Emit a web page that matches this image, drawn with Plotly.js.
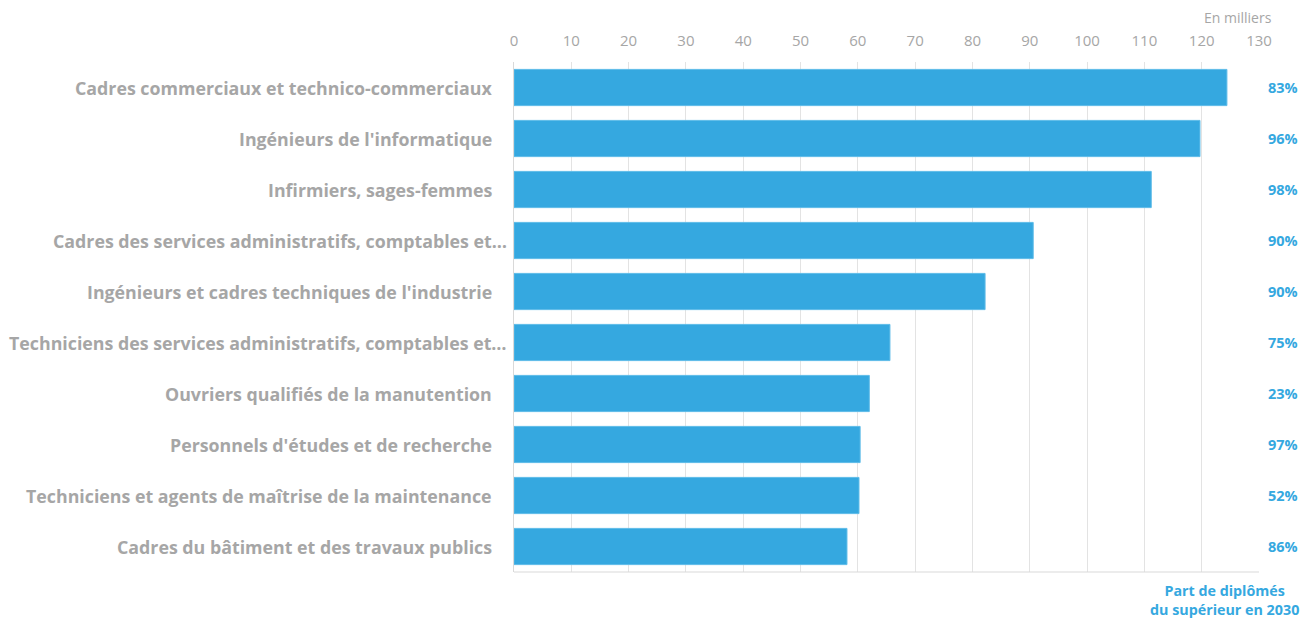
<!DOCTYPE html>
<html><head><meta charset="utf-8">
<script src="https://cdn.plot.ly/plotly-3.0.1.min.js"></script>
<style>html,body{margin:0;padding:0;background:#fff}#chart{width:1315px;height:621px}</style>
</head><body><div id="chart"></div>
<script>
const categories = [
  "Cadres commerciaux et technico-commerciaux",
  "Ingénieurs de l'informatique",
  "Infirmiers, sages-femmes",
  "Cadres des services administratifs, comptables et…",
  "Ingénieurs et cadres techniques de l'industrie",
  "Techniciens des services administratifs, comptables et…",
  "Ouvriers qualifiés de la manutention",
  "Personnels d'études et de recherche",
  "Techniciens et agents de maîtrise de la maintenance",
  "Cadres du bâtiment et des travaux publics"
];
const values = [124.4, 119.7, 111.2, 90.6, 82.2, 65.6, 62.0, 60.4, 60.2, 58.1];
const shares = ["83%", "96%", "98%", "90%", "90%", "75%", "23%", "97%", "52%", "86%"];
const tickVals = [0,10,20,30,40,50,60,70,80,90,100,110,120,130];

const blue = "#35A8E0";
const grey = "#A6A6A6";

const trace = {
  type: "bar", orientation: "h",
  x: values, y: categories,
  marker: {color: blue, line: {color: "#5DBBE8", width: 1}},
  width: 0.71, hoverinfo: "x+y"
};

// category labels drawn as annotations (truncated labels sit closer to the axis)
const annotations = categories.map(c => ({
  xref: "paper", yref: "y", x: 0, y: c, text: "<b>" + c + "</b>",
  showarrow: false, xanchor: "right", yanchor: "middle",
  xshift: c.endsWith("…") ? -5 : -20,
  font: {family: "Open Sans, sans-serif", size: 17.8, color: grey}
}));
categories.forEach((c, i) => annotations.push({
  xref: "paper", yref: "y", x: 1.032, y: c, text: "<b>" + shares[i] + "</b>",
  showarrow: false, xanchor: "center", yanchor: "middle",
  font: {family: "Open Sans, sans-serif", size: 14.5, color: blue}
}));
annotations.push({
  xref: "paper", yref: "paper", x: 1.0, y: 1.0, xshift: 15, yshift: 33, text: "En milliers",
  showarrow: false, xanchor: "right", yanchor: "bottom",
  font: {family: "Open Sans, sans-serif", size: 14, color: grey}
});
annotations.push({
  xref: "paper", yref: "paper", x: 1.057, y: 0, text: "<b>Part de diplômés<br>du supérieur en 2030</b>",
  showarrow: false, xanchor: "right", yanchor: "top", align: "center", yshift: -7,
  font: {family: "Open Sans, sans-serif", size: 14.3, color: blue}
});

const layout = {
  width: 1315, height: 621,
  margin: {l: 514, r: 56, t: 62, b: 49},
  paper_bgcolor: "#fff", plot_bgcolor: "#fff",
  showlegend: false,
  bargap: 0.29,
  xaxis: {
    side: "top", range: [0, 130], tickvals: tickVals,
    showgrid: true, gridcolor: "#E3E3E3", gridwidth: 1,
    zeroline: false, showline: false, ticks: "", ticklabelstandoff: 12,
    tickfont: {family: "Open Sans, sans-serif", size: 15, color: grey},
    fixedrange: true
  },
  yaxis: {
    autorange: "reversed", type: "category",
    showline: true, linecolor: "#D9D9D9", linewidth: 1, mirror: false,
    ticks: "", showticklabels: false,
    fixedrange: true
  },
  shapes: [{type: "line", xref: "paper", yref: "paper", x0: 0, x1: 1, y0: 0, y1: 0,
            line: {color: "#D9D9D9", width: 1}}],
  annotations: annotations
};

Plotly.newPlot("chart", [trace], layout, {displayModeBar: false, staticPlot: true});
</script></body></html>
